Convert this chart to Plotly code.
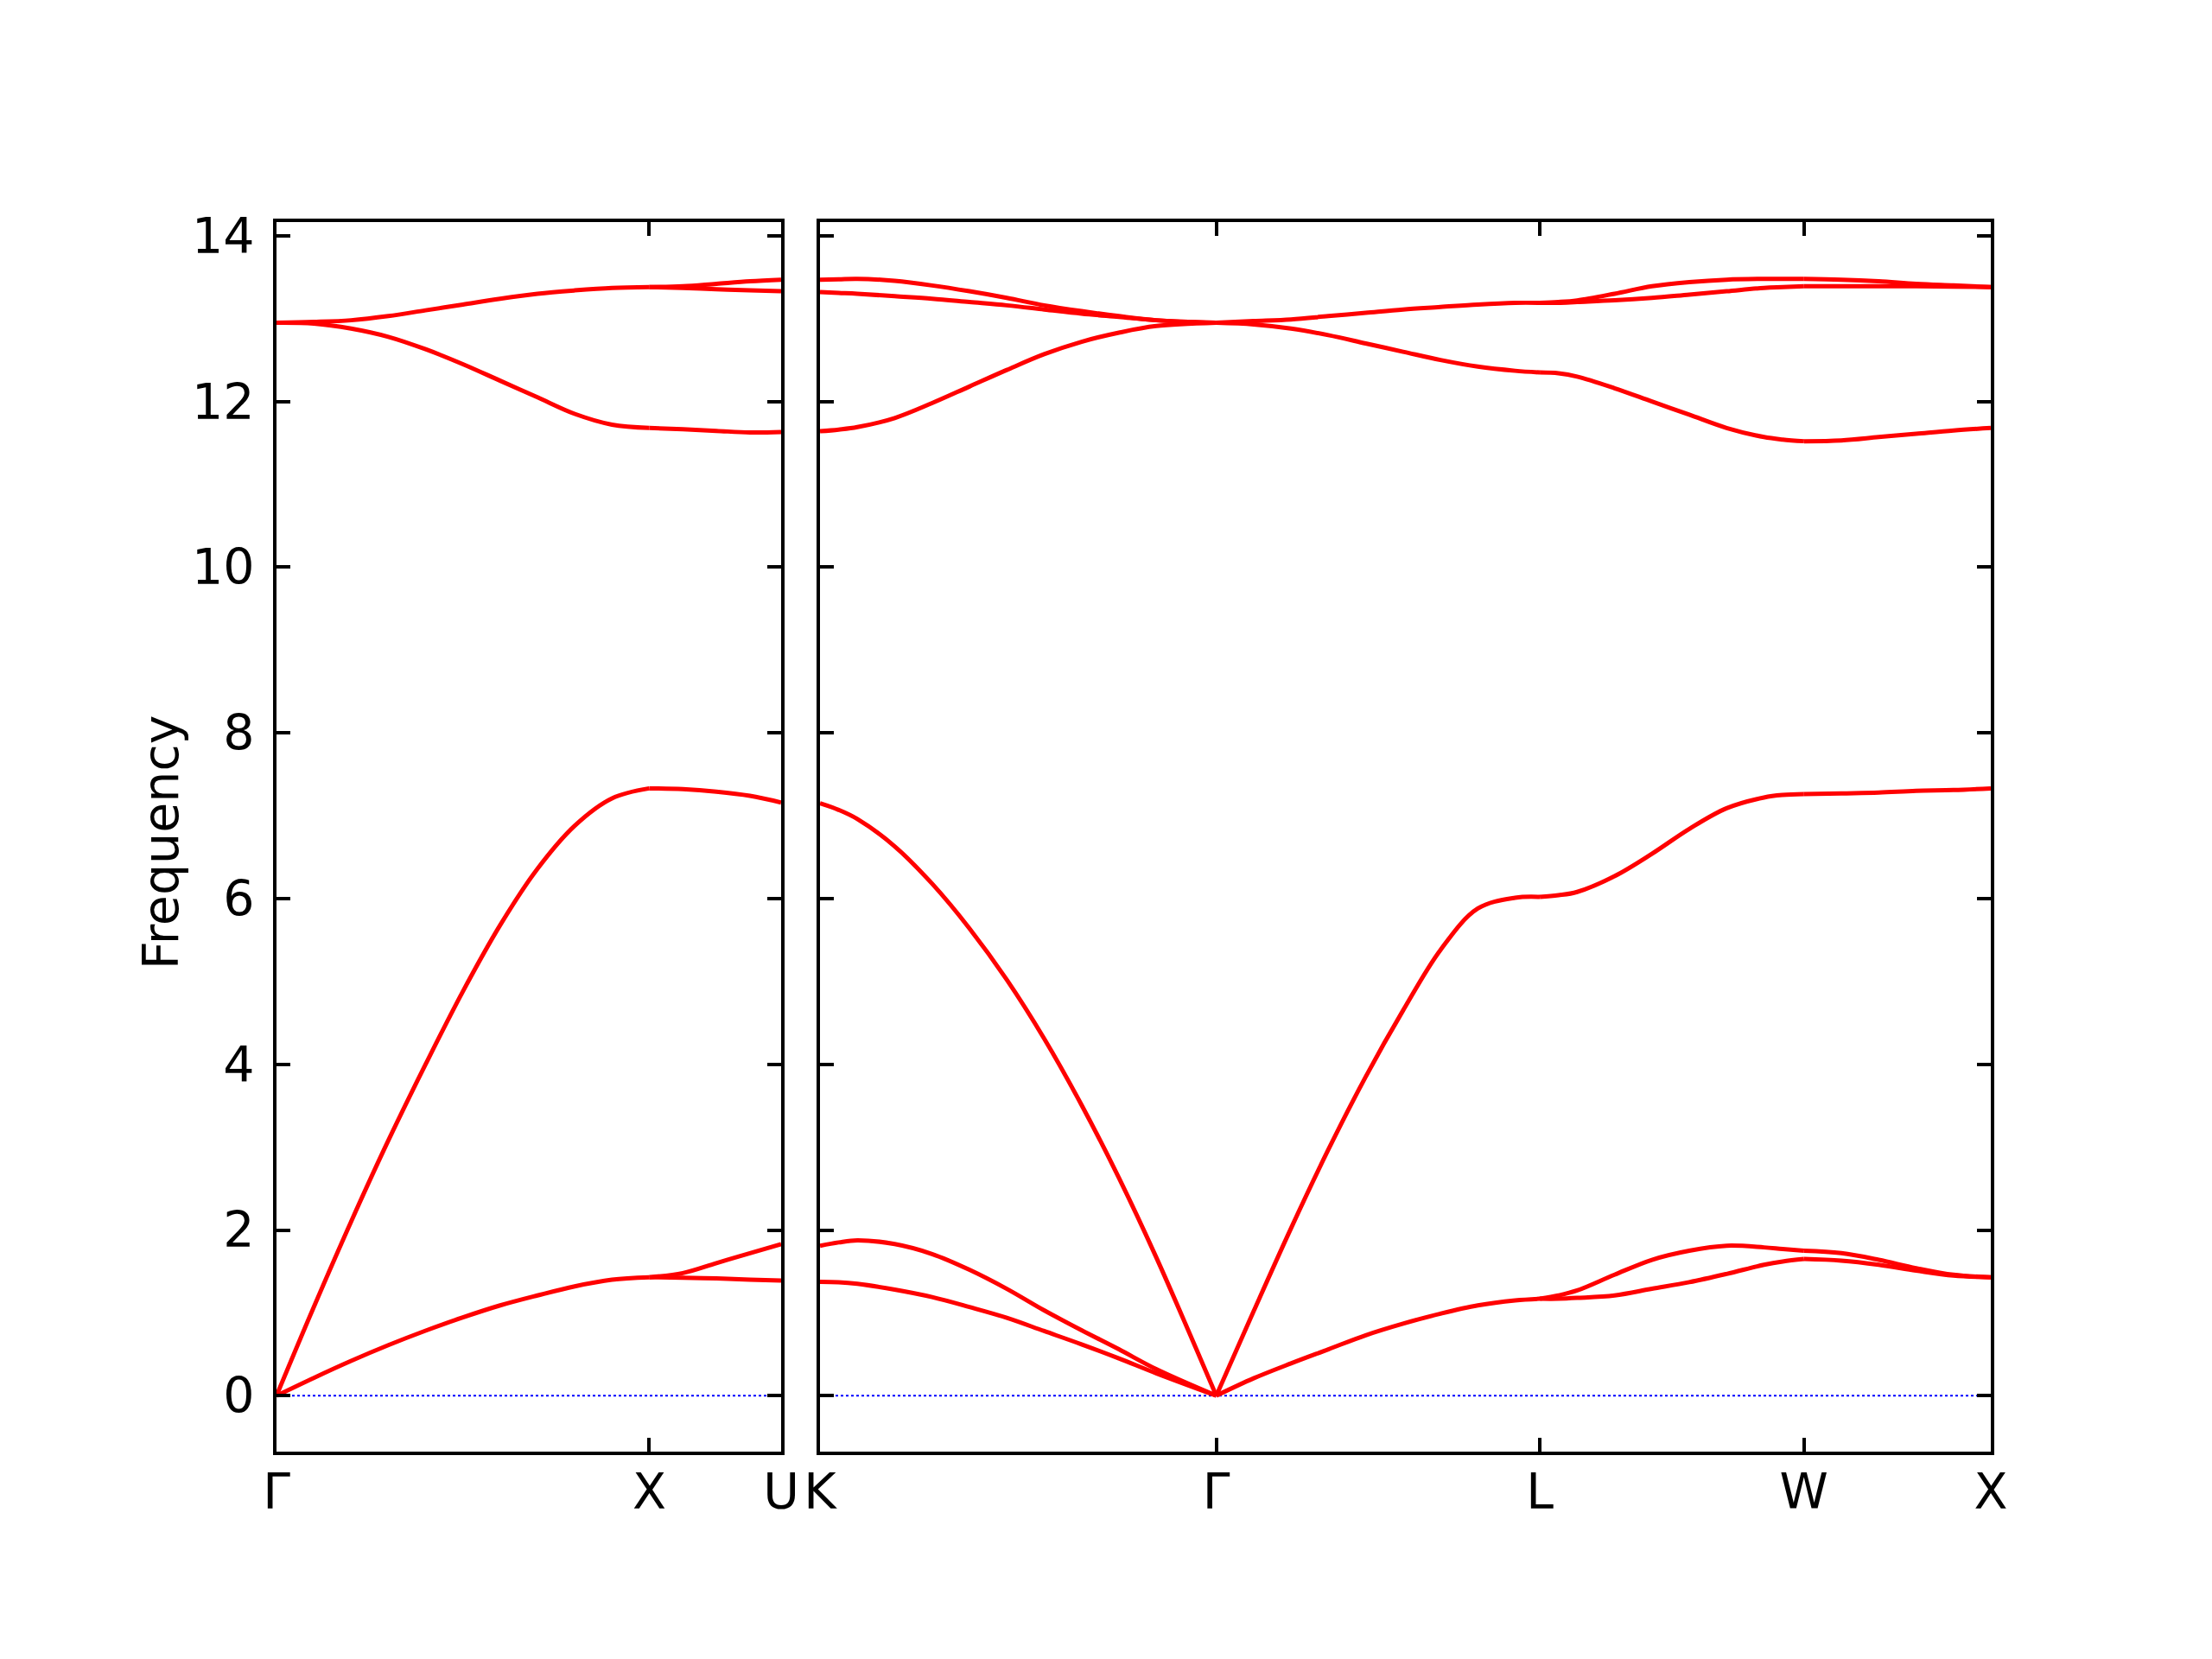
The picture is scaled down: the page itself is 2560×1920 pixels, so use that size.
import plotly.graph_objects as go

# ---------------- path geometry (distance along path) ----------------
LEFT_TICKS = [0.0, 1.0, 1.3536]
LEFT_LABELS = ["Γ", "X", "U"]
RIGHT_TICKS = [0.0, 1.0607, 1.9267, 2.6338, 3.1338]
RIGHT_LABELS = ["K", "Γ", "L", "W", "X"]
Y_TICKS = [0, 2, 4, 6, 8, 10, 12, 14]

# ---------------- Γ–X segment ----------------
GX_d = [0, 0.1, 0.2, 0.3, 0.4, 0.5, 0.6, 0.7, 0.8, 0.9, 1.0]
GX_TA = [0, 0.215, 0.42, 0.61, 0.785, 0.945, 1.09, 1.21, 1.32, 1.40, 1.43]
GX_LA = [0, 1.07, 2.10, 3.08, 4.00, 4.88, 5.68, 6.36, 6.88, 7.21, 7.33]
GX_TO = [12.95, 12.96, 12.98, 13.03, 13.10, 13.17, 13.24, 13.30, 13.34, 13.37, 13.38]
GX_LO = [12.95, 12.94, 12.88, 12.78, 12.63, 12.45, 12.25, 12.05, 11.85, 11.72, 11.68]

# ---------------- X–U segment ----------------
XU_d = [0, 0.09, 0.18, 0.27, 0.3536]
XU_TA1 = [1.43, 1.425, 1.415, 1.40, 1.39]
XU_TA2 = [1.43, 1.48, 1.60, 1.72, 1.83]
XU_LA = [7.33, 7.32, 7.29, 7.24, 7.16]
XU_TO1 = [13.38, 13.37, 13.355, 13.34, 13.33]
XU_TO2 = [13.38, 13.39, 13.42, 13.45, 13.47]
XU_LO = [11.68, 11.665, 11.645, 11.625, 11.63]

# ---------------- K–Γ segment ----------------
KG_d = [0, 0.05, 0.1, 0.2, 0.3, 0.4, 0.5, 0.6, 0.7, 0.8, 0.9, 1.0607]
KG_TA1 = [1.375, 1.37, 1.35, 1.28, 1.19, 1.07, 0.94, 0.78, 0.62, 0.45, 0.27, 0]
KG_TA2 = [1.81, 1.85, 1.875, 1.83, 1.71, 1.52, 1.29, 1.03, 0.79, 0.56, 0.32, 0]
KG_LA = [7.15, 7.07, 6.96, 6.63, 6.18, 5.64, 5.02, 4.31, 3.51, 2.63, 1.67, 0]
KG_O1 = [11.64, 11.66, 11.69, 11.80, 11.98, 12.18, 12.38, 12.57, 12.72, 12.83, 12.91, 12.95]
KG_O2 = [13.32, 13.31, 13.30, 13.27, 13.24, 13.20, 13.16, 13.11, 13.06, 13.02, 12.98, 12.95]
KG_O3 = [13.47, 13.475, 13.48, 13.455, 13.40, 13.33, 13.25, 13.16, 13.09, 13.03, 12.98, 12.95]

# ---------------- Γ–L segment ----------------
GL_d = [0, 0.1, 0.2, 0.3, 0.4, 0.5, 0.6, 0.7, 0.8, 0.866]
GL_TA = [0, 0.21, 0.39, 0.56, 0.73, 0.87, 0.99, 1.09, 1.15, 1.17]
GL_LA = [0, 1.02, 2.02, 2.97, 3.85, 4.65, 5.38, 5.88, 6.01, 6.02]
GL_TO = [12.95, 12.97, 12.99, 13.03, 13.07, 13.11, 13.14, 13.17, 13.19, 13.19]
GL_LO = [12.95, 12.93, 12.88, 12.80, 12.70, 12.60, 12.50, 12.42, 12.37, 12.35]

# ---------------- L–W segment ----------------
LW_d = [0, 0.05, 0.1, 0.2, 0.3, 0.4, 0.5, 0.6, 0.65, 0.7071]
LW_TA1 = [1.17, 1.17, 1.18, 1.21, 1.29, 1.37, 1.47, 1.58, 1.62, 1.65]
LW_TA2 = [1.17, 1.21, 1.27, 1.46, 1.64, 1.75, 1.81, 1.79, 1.77, 1.75]
LW_LA = [6.02, 6.04, 6.08, 6.27, 6.54, 6.84, 7.09, 7.22, 7.25, 7.26]
LW_O1 = [12.35, 12.34, 12.30, 12.16, 12.00, 11.84, 11.68, 11.57, 11.54, 11.52]
LW_O2 = [13.19, 13.19, 13.20, 13.22, 13.25, 13.29, 13.33, 13.37, 13.38, 13.39]
LW_O3 = [13.19, 13.20, 13.22, 13.30, 13.39, 13.44, 13.47, 13.48, 13.48, 13.48]

# ---------------- W–X segment ----------------
WX_d = [0, 0.10, 0.20, 0.30, 0.40, 0.50]
WX_TA1 = [1.65, 1.63, 1.58, 1.51, 1.45, 1.43]
WX_TA2 = [1.75, 1.72, 1.64, 1.54, 1.46, 1.43]
WX_LA = [7.26, 7.27, 7.28, 7.30, 7.31, 7.33]
WX_O1 = [11.52, 11.53, 11.57, 11.61, 11.65, 11.68]
WX_O2 = [13.39, 13.39, 13.39, 13.39, 13.385, 13.38]
WX_O3 = [13.48, 13.47, 13.45, 13.42, 13.40, 13.38]

Y_RANGE = [-0.675, 14.165]

segments = [
    ("x", "y", 0.0, GX_d, [GX_TA, GX_LA, GX_TO, GX_LO]),
    ("x", "y", 1.0, XU_d, [XU_TA1, XU_TA2, XU_LA, XU_TO1, XU_TO2, XU_LO]),
    ("x2", "y2", 0.0, KG_d, [KG_TA1, KG_TA2, KG_LA, KG_O1, KG_O2, KG_O3]),
    ("x2", "y2", 1.0607, GL_d, [GL_TA, GL_LA, GL_TO, GL_LO]),
    ("x2", "y2", 1.9267, LW_d, [LW_TA1, LW_TA2, LW_LA, LW_O1, LW_O2, LW_O3]),
    ("x2", "y2", 2.6338, WX_d, [WX_TA1, WX_TA2, WX_LA, WX_O1, WX_O2, WX_O3]),
]

fig = go.Figure()

# zero lines (blue dotted)
fig.add_trace(go.Scatter(x=[LEFT_TICKS[0], LEFT_TICKS[-1]], y=[0, 0], mode="lines",
                         line=dict(color="blue", width=2, dash="dot"),
                         xaxis="x", yaxis="y", showlegend=False, hoverinfo="skip"))
fig.add_trace(go.Scatter(x=[RIGHT_TICKS[0], RIGHT_TICKS[-1]], y=[0, 0], mode="lines",
                         line=dict(color="blue", width=2, dash="dot"),
                         xaxis="x2", yaxis="y2", showlegend=False, hoverinfo="skip"))

for xa, ya, start, dists, bands in segments:
    xs = [start + d for d in dists]
    for band in bands:
        fig.add_trace(go.Scatter(x=xs, y=band, mode="lines",
                                 line=dict(color="#ff0000", width=5, shape="spline", smoothing=1.0),
                                 xaxis=xa, yaxis=ya, showlegend=False))

W, H = 2560, 1920
OFF = 8  # browser default body margin
left_dom = [(320 - OFF) / W, (904 - OFF) / W]
right_dom = [(949 - OFF) / W, (2304 - OFF) / W]
y_dom = [(H - (1680 - OFF)) / H, (H - (257 - OFF)) / H]

font = dict(family="DejaVu Sans", size=57, color="black")
common_axis = dict(showline=True, linecolor="black", linewidth=4, mirror="ticks",
                   ticks="inside", ticklen=16, tickwidth=3.5, tickcolor="black",
                   showgrid=False, zeroline=False, tickfont=font, automargin=False)

fig.update_layout(
    template="none",
    width=W, height=H,
    margin=dict(l=0, r=0, t=0, b=0, pad=0),
    paper_bgcolor="white", plot_bgcolor="white",
    showlegend=False,
    xaxis=dict(domain=left_dom, range=[LEFT_TICKS[0], LEFT_TICKS[-1]], anchor="y",
               tickmode="array", tickvals=LEFT_TICKS, ticktext=LEFT_LABELS,
               ticklabelstandoff=-6, **common_axis),
    xaxis2=dict(domain=right_dom, range=[RIGHT_TICKS[0], RIGHT_TICKS[-1]], anchor="y2",
                tickmode="array", tickvals=RIGHT_TICKS, ticktext=RIGHT_LABELS,
                ticklabelstandoff=-6, **common_axis),
    yaxis=dict(domain=y_dom, range=Y_RANGE, anchor="x",
               tickmode="array", tickvals=Y_TICKS, ticktext=[str(v) for v in Y_TICKS],
               ticklabelstandoff=10, **common_axis),
    yaxis2=dict(domain=y_dom, range=Y_RANGE, anchor="x2",
                tickmode="array", tickvals=Y_TICKS, showticklabels=False, **common_axis),
    annotations=[dict(text="Frequency", x=(186 - OFF) / W, y=(H - (975 - OFF)) / H,
                      xref="paper", yref="paper",
                      xanchor="center", yanchor="middle", textangle=-90, showarrow=False,
                      font=font)],
)

fig.write_html("out.html")
